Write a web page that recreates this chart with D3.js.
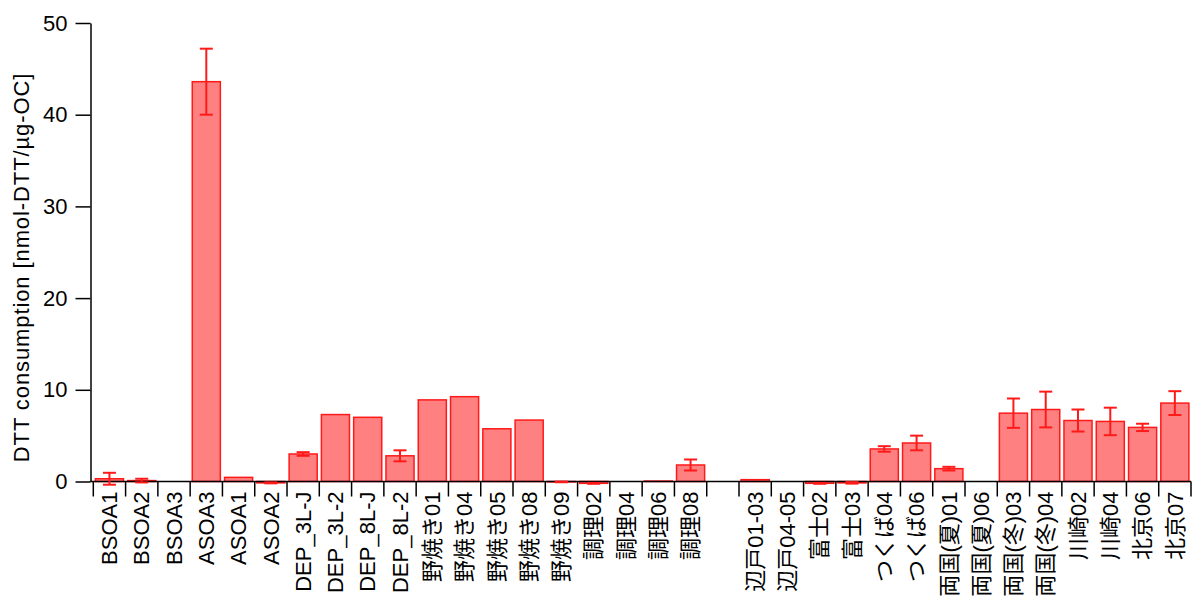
<!DOCTYPE html>
<html>
<head>
<meta charset="utf-8">
<script src="https://cdn.jsdelivr.net/npm/d3@7"></script>
<style>
  html, body { margin: 0; padding: 0; background: #fff; }
  svg text { font-family: "Liberation Sans", Arial, Helvetica, "Noto Sans CJK JP", sans-serif; }
</style>
</head>
<body>
<svg id="chart" width="1196" height="597"></svg>
<script>
// Sample names (an empty string leaves a gap slot between groups)
const categories = [
  "BSOA1", "BSOA2", "BSOA3", "ASOA3", "ASOA1", "ASOA2",
  "DEP_3L-J", "DEP_3L-2", "DEP_8L-J", "DEP_8L-2",
  "野焼き01", "野焼き04", "野焼き05", "野焼き08", "野焼き09",
  "調理02", "調理04", "調理06", "調理08", "",
  "辺戸01-03", "辺戸04-05", "富士02", "富士03",
  "つくば04", "つくば06", "両国(夏)01", "両国(夏)06",
  "両国(冬)03", "両国(冬)04", "川崎02", "川崎04", "北京06", "北京07"
];

// DTT consumption per sample [nmol-DTT/µg-OC]
const values = [
  0.3, 0.1, 0, 43.6, 0.45, -0.15,
  3.0, 7.3, 7.0, 2.8,
  8.9, 9.25, 5.75, 6.7, -0.05,
  -0.2, 0, 0.05, 1.8, null,
  0.2, 0, -0.2, -0.15,
  3.55, 4.2, 1.4, 0,
  7.45, 7.85, 6.65, 6.55, 5.9, 8.55
];

// Standard deviation of each sample (0 = no bar drawn)
const errors = [
  0.65, 0.2, 0, 3.6, 0, 0.05,
  0.2, 0, 0, 0.6,
  0, 0, 0, 0, 0.03,
  0.05, 0, 0, 0.6, null,
  0, 0, 0.05, 0.08,
  0.3, 0.8, 0.2, 0,
  1.6, 1.95, 1.2, 1.5, 0.4, 1.3
];

const yTicks = [0, 10, 20, 30, 40, 50];
const yTitle = "DTT consumption [nmol-DTT/µg-OC]";

const svg = d3.select("#chart");

const plot = { left: 90.5, right: 1191, top: 23, bottom: 481.5, bandStart: 93.3 };

const x = d3.scaleBand()
  .domain(d3.range(categories.length))
  .range([plot.bandStart, plot.right])
  .paddingInner(0.13)
  .paddingOuter(0.065);

const y = d3.scaleLinear().domain([0, 50]).range([plot.bottom, plot.top]);

const rows = categories.map((c, i) => ({ i, name: c, v: values[i], e: errors[i] }))
  .filter(d => d.v !== null);

// Bars
svg.append("g")
  .selectAll("rect")
  .data(rows)
  .join("rect")
  .attr("x", d => x(d.i))
  .attr("width", x.bandwidth())
  .attr("y", d => y(Math.max(0, d.v)))
  .attr("height", d => Math.abs(y(d.v) - y(0)))
  .attr("fill", "#ff8080")
  .attr("stroke", "#ff1a1a")
  .attr("stroke-width", 1.5);

// Y axis
const yAxis = svg.append("g")
  .attr("transform", `translate(${plot.left},0)`)
  .call(d3.axisLeft(y).tickValues(yTicks).tickSize(15).tickPadding(8).tickSizeOuter(0));
yAxis.select(".domain").attr("stroke", "#000").attr("stroke-width", 1.5);
yAxis.selectAll(".tick line").attr("stroke", "#000").attr("stroke-width", 1.5);
yAxis.selectAll(".tick text").attr("font-size", 22).attr("fill", "#000");

// X axis: baseline, boundary ticks between samples, rotated labels
const step = x.step();
const boundaries = d3.range(categories.length + 1).map(k => plot.bandStart + k * step);

const xAxis = svg.append("g");
xAxis.append("line")
  .attr("x1", plot.left).attr("x2", plot.right)
  .attr("y1", y(0)).attr("y2", y(0))
  .attr("stroke", "#000").attr("stroke-width", 1.5);
xAxis.selectAll("line.tick")
  .data(boundaries)
  .join("line")
  .attr("class", "tick")
  .attr("x1", d => d).attr("x2", d => d)
  .attr("y1", y(0)).attr("y2", y(0) + 15)
  .attr("stroke", "#000").attr("stroke-width", 1.5);
xAxis.selectAll("text")
  .data(categories.map((c, i) => ({ c, i })))
  .join("text")
  .attr("transform", d => `translate(${x(d.i) + x.bandwidth() / 2},${y(0) + 10}) rotate(-90)`)
  .attr("text-anchor", "end")
  .attr("dy", "0.35em")
  .attr("font-size", 22)
  .attr("fill", "#000")
  .text(d => d.c);

// Error bars
const capHalf = 6.5;
const err = svg.append("g")
  .attr("stroke", "#ff1a1a")
  .attr("stroke-width", 2)
  .selectAll("g")
  .data(rows.filter(d => d.e > 0))
  .join("g")
  .attr("transform", d => `translate(${x(d.i) + x.bandwidth() / 2},0)`);
err.append("line")
  .attr("y1", d => y(d.v + d.e)).attr("y2", d => y(d.v - d.e));
err.append("line")
  .attr("x1", -capHalf).attr("x2", capHalf)
  .attr("y1", d => y(d.v + d.e)).attr("y2", d => y(d.v + d.e));
err.append("line")
  .attr("x1", -capHalf).attr("x2", capHalf)
  .attr("y1", d => y(d.v - d.e)).attr("y2", d => y(d.v - d.e));

// Y axis title
svg.append("text")
  .attr("transform", `translate(21,267.5) rotate(-90)`)
  .attr("text-anchor", "middle")
  .attr("dy", "0.35em")
  .attr("font-size", 22)
  .attr("letter-spacing", 0.9)
  .attr("fill", "#000")
  .text(yTitle);
</script>
</body>
</html>
